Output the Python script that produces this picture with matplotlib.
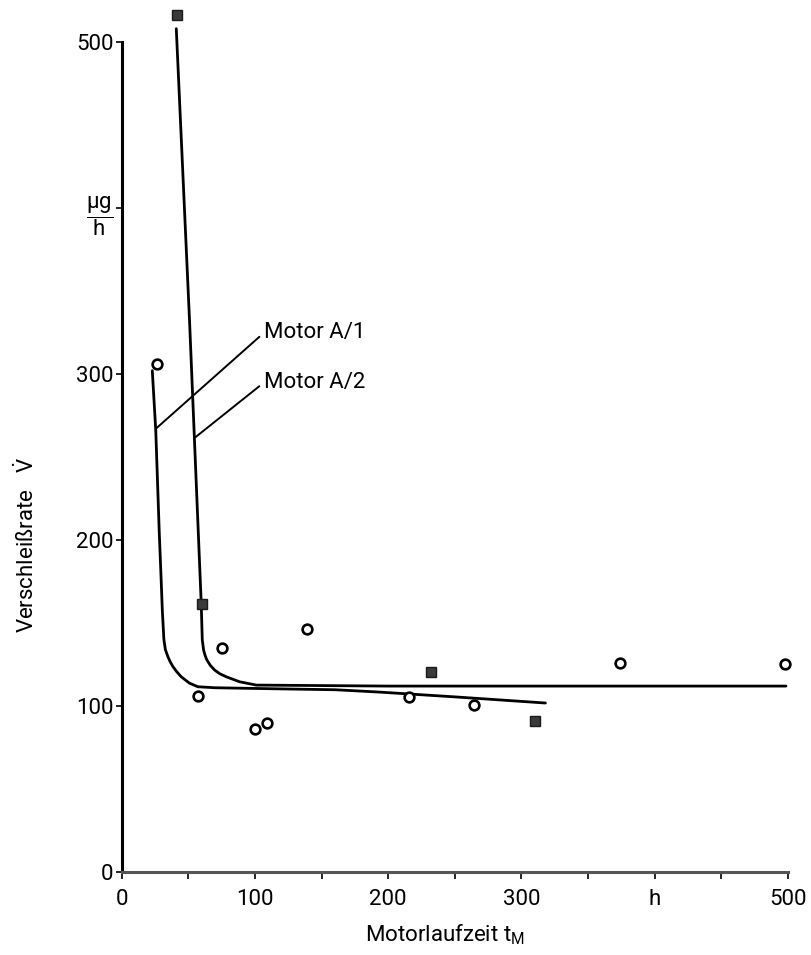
import matplotlib
matplotlib.use('Agg')
import matplotlib.pyplot as plt

plt.rcParams['font.family'] = ['Roboto', 'DejaVu Sans']
plt.rcParams['mathtext.fontset'] = 'custom'
plt.rcParams['mathtext.rm'] = 'Roboto'
plt.rcParams['mathtext.it'] = 'Roboto'

# measured points, Motor A/1 (open circles)
a1_x = [26.8, 57.2, 75.5, 100.4, 109.4, 139.4, 215.9, 264.6, 373.8, 497.5]
a1_y = [306, 106, 134.8, 86, 90, 146.2, 105.6, 100.6, 125.7, 125.1]

# measured points, Motor A/2 (filled squares)
a2_x = [41.7, 60, 232, 310.3]
a2_y = [516.4, 161.4, 120.7, 91.1]

# hand-drawn trend curves
curve1_x = [23, 25.6, 28.2, 29.7, 30.5, 31.7, 32.8, 34.7, 36.5, 38.5, 41.5, 44.7, 51, 57.2,
            70, 120, 160, 193, 250, 318]
curve1_y = [302, 266, 205, 175, 158, 140, 134, 129.7, 126.5, 123.7, 120.5, 117.6, 113.7, 111.6,
            111, 110.3, 109.8, 108.4, 105.5, 101.8]
curve2_x = [41, 51, 59.7, 60.5, 61.5, 62.6, 64, 66.5, 69.7, 73.5, 78.5, 88.5, 101, 200, 300, 498.5]
curve2_y = [508, 331, 162, 139.8, 133.7, 130.5, 127.7, 124.5, 121.7, 119.5, 117.6, 114.6, 112.6,
            112, 112, 112]

x_ticks = [0, 100, 200, 300, 400, 500]
x_labels = ['0', '100', '200', '300', 'h', '500']
y_ticks = [0, 100, 200, 300, 400, 500]
y_labels = ['0', '100', '200', '300', r'$\dfrac{\mu\mathrm{g}}{\mathrm{h}}$', '500']

fig = plt.figure(figsize=(8.11, 9.55), dpi=100)
ax = fig.add_axes([0.150, 0.0869, 0.8216, 0.9126])

ax.plot(curve1_x, curve1_y, color='black', lw=2.0, solid_capstyle='round',
        solid_joinstyle='round', zorder=2)
ax.plot(curve2_x, curve2_y, color='black', lw=2.0, solid_capstyle='round',
        solid_joinstyle='round', zorder=2)

ax.plot(a1_x, a1_y, 'o', ms=7, mfc='white', mec='black', mew=1.9, clip_on=False, zorder=3)
ax.plot(a2_x, a2_y, 's', ms=7, mfc='#3a3a3a', mec='#1a1a1a', mew=1.0, clip_on=False, zorder=3)

# labels with leader lines
leader = dict(arrowstyle='-', color='black', lw=1.4, shrinkA=2, shrinkB=0, relpos=(0, 0.5))
ax.annotate('Motor A/1', xy=(25.6, 267), xytext=(107, 325), fontsize=16, va='center', ha='left',
            arrowprops=leader)
ax.annotate('Motor A/2', xy=(55.5, 262), xytext=(107, 295), fontsize=16, va='center', ha='left',
            arrowprops=leader)

ax.set_xlim(0, 500)
ax.set_ylim(0, 525)
ax.spines['top'].set_visible(False)
ax.spines['right'].set_visible(False)
ax.spines['left'].set_bounds(0, 500)
ax.spines['left'].set_linewidth(2.2)
ax.spines['bottom'].set_linewidth(2.2)
ax.spines['bottom'].set_color('#555555')

ax.set_xticks(x_ticks)
ax.set_xticklabels(x_labels)
ax.set_xticks(range(0, 501, 50), minor=True)
ax.set_yticks(y_ticks)
ax.set_yticklabels(y_labels)
ax.tick_params(axis='x', which='both', direction='out', length=5, width=1.2, labelsize=16, pad=7)
ax.tick_params(axis='y', direction='out', length=4, width=1.2, labelsize=16, pad=2)

fig.text(0.549, 0.021, r'Motorlaufzeit $\mathrm{t_M}$', fontsize=16, ha='center', va='center')
fig.text(0.033, 0.429, r'Verschleißrate   $\dot{\mathrm{V}}$', fontsize=16, rotation=90,
         ha='center', va='center')

fig.savefig('out.png', dpi=100)
